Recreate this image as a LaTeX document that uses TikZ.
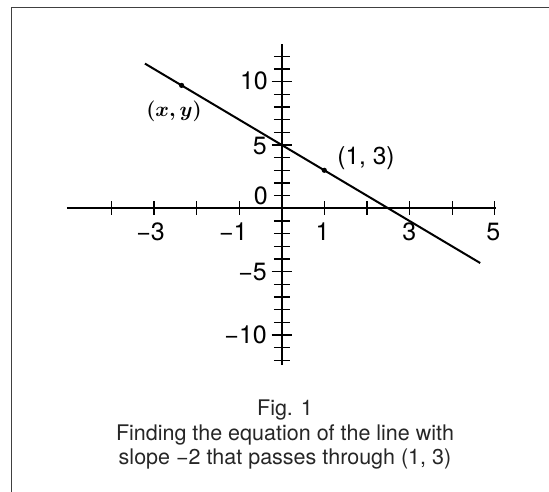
\documentclass[tikz,border=0pt]{standalone}
\usepackage[no-math]{fontspec}
\setmainfont{TeX Gyre Heros}
\begin{document}
\begin{tikzpicture}[x=1pt,y=-1pt,
  axisline/.style={line width=2.2pt},
  tickline/.style={line width=1.2pt},
  graphline/.style={line width=2pt},
  ticklabel/.style={font=\fontsize{25}{29}\selectfont, inner sep=0pt},
  ylabel/.style={ticklabel, anchor=east},
  ptlabel/.style={font=\fontsize{24.5}{28}\selectfont, inner sep=0pt},
  xylabel/.style={font=\fontsize{22}{26}\selectfont\boldmath, inner sep=0pt},
  captionline/.style={font=\fontsize{21.5}{24}\selectfont, text=black!85, inner sep=0pt, anchor=base},
  framestyle/.style={line width=1.5pt, draw=black!75}
]
\useasboundingbox (0,0) rectangle (549,492);
\fill[white] (0,0) rectangle (549,492);
% partial frame (top and left edges)
\coordinate (ftop) at (549,7.7);
\coordinate (fcorner) at (11.3,7.7);
\coordinate (fbottom) at (11.3,492);
\draw[framestyle] (ftop) -- (fcorner) -- (fbottom);

\begin{scope}[shift={(281.7pt,-208.3pt)}, x=42.6pt, y=12.67pt]
  \coordinate (xleft) at (-5.04,0);
  \coordinate (xright) at (5.03,0);
  \coordinate (ybottom) at (0,-12.37);
  \coordinate (ytop) at (0,12.94);
  \draw[axisline] (xleft) -- (xright);
  \draw[axisline] (ybottom) -- (ytop);
  \foreach \i in {-4,-3,-2,-1,1,2,3,4,5}
    \draw[tickline] (\i,0) ++(0pt,7pt) -- ++(0pt,-14pt);
  \foreach \j in {-12,-11,-9,-8,-7,-6,-4,-3,-2,-1,1,2,3,4,6,7,8,9,11,12}
    \draw[tickline] (0,\j) ++(-7.8pt,0pt) -- ++(15.6pt,0pt);
  \foreach \j in {-10,-5,5,10}
    \draw[tickline] (0,\j) ++(-10pt,0pt) -- ++(20pt,0pt);
  \coordinate (lstart) at (-3.21,11.42);
  \coordinate (lend) at (4.66,-4.32);
  \draw[graphline] (lstart) -- (lend);
  \coordinate (p13) at (1,3);
  \coordinate (pxy) at (-2.35,9.7);
  \fill (p13) circle[radius=2.6pt];
  \fill (pxy) circle[radius=2.6pt];
\end{scope}

% x tick labels
\node[ticklabel] (xm3) at (150.5,231.7) {−3};
\node[ticklabel] (xm1) at (233.3,231.7) {−1};
\node[ticklabel] (xp1) at (322.5,231.7) {1};
\node[ticklabel] (xp3) at (409.3,231.7) {3};
\node[ticklabel] (xp5) at (493.3,231.7) {5};
% y tick labels
\node[ylabel] (y10) at (268,81) {10};
\node[ylabel] (y5) at (267,146.5) {5};
\node[ylabel] (y0) at (268,195.7) {0};
\node[ylabel] (ym5) at (267,271.7) {−5};
\node[ylabel] (ym10) at (267,335) {−10};
% point labels
\node[ptlabel] (l13) at (366,158) {(1, 3)};
\node[xylabel] (lxy) at (174,111.7) {$(x, y)$};
% caption
\node[captionline] (cap1) at (285,415.5) {Fig. 1};
\node[captionline] (cap2) at (285,440) {Finding the equation of the line with};
\node[captionline] (cap3) at (285,464) {slope −2 that passes through (1, 3)};
\end{tikzpicture}
\end{document}
